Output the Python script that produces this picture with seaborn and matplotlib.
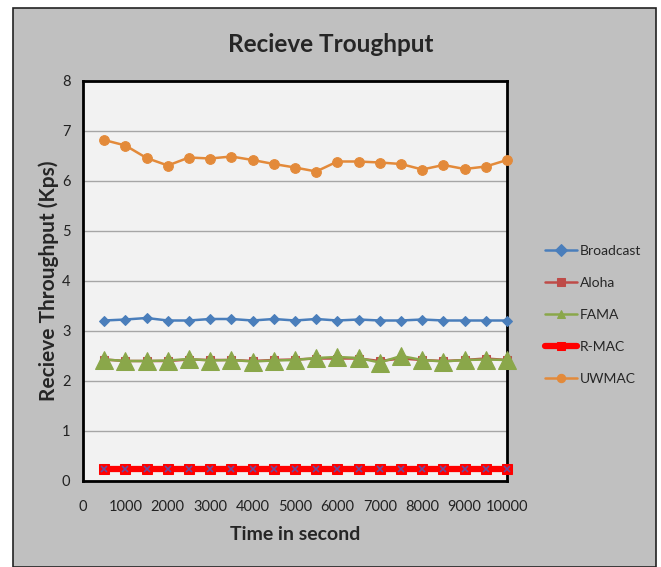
import matplotlib
matplotlib.use("Agg")
import matplotlib.pyplot as plt
import seaborn as sns
import pandas as pd
from matplotlib.patches import Rectangle

time_s = [500, 1000, 1500, 2000, 2500, 3000, 3500, 4000, 4500, 5000,
          5500, 6000, 6500, 7000, 7500, 8000, 8500, 9000, 9500, 10000]
broadcast = [3.21, 3.23, 3.26, 3.21, 3.21, 3.24, 3.24, 3.21, 3.24, 3.21,
             3.24, 3.21, 3.23, 3.21, 3.21, 3.23, 3.21, 3.21, 3.21, 3.21]
aloha = [2.43, 2.40, 2.40, 2.40, 2.43, 2.42, 2.42, 2.40, 2.42, 2.43,
         2.45, 2.45, 2.45, 2.40, 2.45, 2.42, 2.40, 2.42, 2.45, 2.42]
fama = [2.43, 2.40, 2.40, 2.41, 2.44, 2.41, 2.42, 2.39, 2.41, 2.42,
        2.46, 2.48, 2.46, 2.37, 2.50, 2.42, 2.39, 2.42, 2.43, 2.42]
rmac = [0.25] * 20
uwmac = [6.82, 6.71, 6.46, 6.31, 6.47, 6.45, 6.49, 6.42, 6.34, 6.27,
         6.19, 6.39, 6.39, 6.37, 6.34, 6.23, 6.32, 6.24, 6.29, 6.42]

series_names = ["Broadcast", "Aloha", "FAMA", "R-MAC", "UWMAC"]
series_vals = [broadcast, aloha, fama, rmac, uwmac]

rows = []
for name, vals in zip(series_names, series_vals):
    for t, v in zip(time_s, vals):
        rows.append({"Time": t, "Value": v, "Series": name})
df = pd.DataFrame(rows)

sns.set_style("white")
plt.rcParams['font.family'] = ['Lato', 'DejaVu Sans']

fig = plt.figure(figsize=(6.61, 5.67), dpi=100)
fig.patch.set_facecolor("white")
bg = Rectangle((13 / 661, 0), (656 - 13) / 661, (567 - 8) / 567,
               transform=fig.transFigure, facecolor="#c0c0c0",
               edgecolor="#222222", linewidth=1.2, zorder=-10)
fig.patches.append(bg)

ax = fig.add_axes([83 / 661, (567 - 481) / 567, (507 - 83) / 661, (481 - 81) / 567])
ax.set_zorder(1)
ax.set_facecolor("#f2f2f2")

styles = {
    "Broadcast": dict(color="#4a7ebb", marker="D", ms=5, lw=1.8, mec="#4a7ebb"),
    "Aloha": dict(color="#be4b48", marker="s", ms=6, lw=1.8, mec="#be4b48"),
    "FAMA": dict(color="#8aa74a", marker="^", ms=13, lw=1.8, mec="#8aa74a"),
    "R-MAC": dict(color="#ff0000", marker="s", ms=7, lw=4.5, mec="#ff0000"),
    "UWMAC": dict(color="#e38a3a", marker="o", ms=7, lw=1.8, mec="#e38a3a"),
}

for name in series_names:
    st = styles[name]
    sub = df[df["Series"] == name]
    sns.lineplot(data=sub, x="Time", y="Value", ax=ax, color=st["color"],
                 linewidth=st["lw"], marker=st["marker"], markersize=st["ms"],
                 markeredgecolor=st["mec"], label=name, zorder=3,
                 clip_on=False)
    if name == "R-MAC":
        ax.plot(sub["Time"], sub["Value"], linestyle="none", marker="x",
                color="#6a4a9c", markersize=5, mew=1.2, zorder=4, clip_on=False)

ax.set_xlim(0, 10000)
ax.set_ylim(0, 8)
ax.set_xticks(range(0, 10001, 1000))
ax.set_yticks(range(0, 9))
ax.yaxis.grid(True, color="#a6a6a6", linewidth=1)
ax.xaxis.grid(False)
ax.set_axisbelow(True)
for sp in ax.spines.values():
    sp.set_color("black")
    sp.set_linewidth(2)
ax.tick_params(axis="both", labelsize=10.5, colors="#222222", length=0)
ax.tick_params(axis="x", pad=14)
ax.tick_params(axis="y", pad=9)

ax.set_xlabel("Time in second", fontsize=14, fontweight="bold", labelpad=8)
ax.set_ylabel("Recieve Throughput (Kps)", fontsize=15, fontweight="bold", labelpad=2)
fig.text(0.5, 0.922, "Recieve Troughput", ha="center", va="center",
         fontsize=17.5, fontweight="bold")

leg = ax.legend(loc="center left", bbox_to_anchor=(1.06, 0.415), frameon=False,
                fontsize=10, labelspacing=1.45, handlelength=2.3, handletextpad=0.2)
for h in leg.legend_handles:
    h.set_markersize(6)

fig.savefig("out.png", dpi=100, facecolor=fig.get_facecolor())
